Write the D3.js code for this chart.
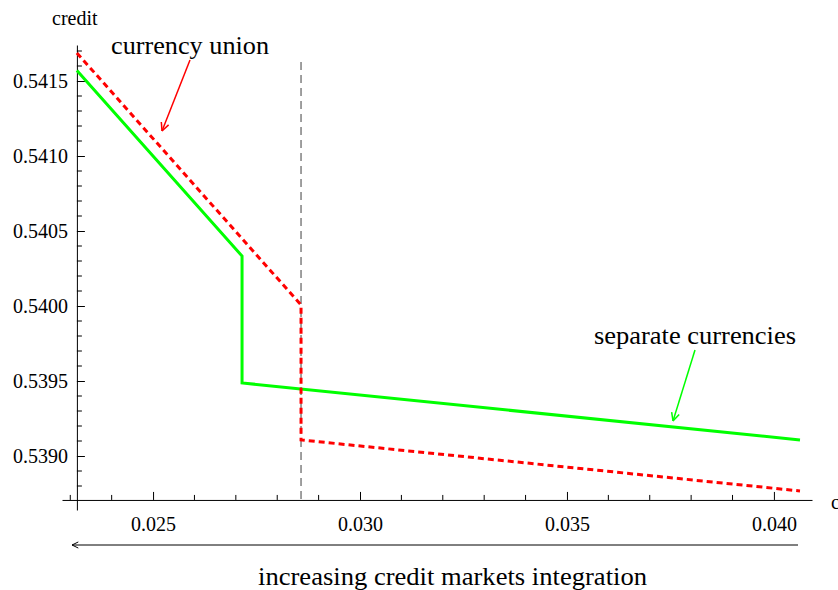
<!DOCTYPE html>
<html><head><meta charset="utf-8">
<script src="https://cdn.jsdelivr.net/npm/d3@7"></script>
<style>
body{margin:0;background:#fff;}
svg{display:block;}
</style></head>
<body><svg id="c" width="838" height="590"></svg>
<script>
// data
const greenX = [0.02316, 0.02715, 0.02715, 0.04063];
const greenY = [0.54157, 0.540333, 0.539487, 0.539107];
const redX = [0.02316, 0.028575, 0.028575, 0.04063];
const redY = [0.541687, 0.540007, 0.539107, 0.538767];
const thresholdX = 0.028575;
const xMajor = [0.025, 0.030, 0.035, 0.040];
const yMajor = [0.5390, 0.5395, 0.5400, 0.5405, 0.5410, 0.5415];
const xMinor = [0.023,0.024,0.026,0.027,0.028,0.029,0.031,0.032,0.033,0.034,0.036,0.037,0.038,0.039];
const yMinor = [0.5388,0.5389,0.5391,0.5392,0.5393,0.5394,0.5396,0.5397,0.5398,0.5399,0.5401,0.5402,0.5403,0.5404,0.5406,0.5407,0.5408,0.5409,0.5411,0.5412,0.5413,0.5414,0.5416,0.5417];
const yAxisAt = 0.02316, xAxisAt = 0.538707;

const FONT = '"Liberation Serif"';
const svg = d3.select("#c");
const x = d3.scaleLinear().domain([0.0228, 0.04092]).range([62, 812]);
const y = d3.scaleLinear().domain([0.53864, 0.54174]).range([510, 45]);
const X0 = x(yAxisAt), Y0 = y(xAxisAt);

// x axis
const gx = svg.append("g").attr("transform", `translate(0,${Y0})`)
  .call(d3.axisBottom(x).tickValues(xMajor).tickSize(-8).tickSizeOuter(0).tickPadding(17).tickFormat(d3.format(".3f")));
gx.selectAll("text").style("font-family", FONT).style("font-size","20px").attr("fill","#000");
gx.selectAll("path,line").attr("stroke","#000");
gx.selectAll(".minor").data(xMinor).enter().append("line")
  .attr("x1", d=>x(d)).attr("x2", d=>x(d)).attr("y1",0).attr("y2",-5).attr("stroke","#000");

// y axis
const gy = svg.append("g").attr("transform", `translate(${X0},0)`)
  .call(d3.axisLeft(y).tickValues(yMajor).tickSize(-8).tickSizeOuter(0).tickPadding(9).tickFormat(d3.format(".4f")));
gy.selectAll("text").style("font-family", FONT).style("font-size","20px").attr("fill","#000");
gy.selectAll("path,line").attr("stroke","#000");
gy.selectAll(".minor").data(yMinor).enter().append("line")
  .attr("y1", d=>y(d)).attr("y2", d=>y(d)).attr("x1",0).attr("x2",5).attr("stroke","#000");

// threshold
svg.append("line").attr("x1", x(thresholdX)).attr("x2", x(thresholdX))
  .attr("y1", y(0.541627)).attr("y2", Y0)
  .attr("stroke","#808080").attr("stroke-width",1.5).attr("stroke-dasharray","8,5");

const line = d3.line().x(d=>x(d[0])).y(d=>y(d[1]));
svg.append("path").datum(greenX.map((v,i)=>[v,greenY[i]])).attr("d", line)
  .attr("fill","none").attr("stroke","#00ff00").attr("stroke-width",3);
svg.append("path").datum(redX.map((v,i)=>[v,redY[i]])).attr("d", line)
  .attr("fill","none").attr("stroke","#ff0000").attr("stroke-width",3).attr("stroke-dasharray","6,4");

// arrows
function arrow(x1,y1,x2,y2,color,w,head){
  svg.append("line").attr("x1",x1).attr("y1",y1).attr("x2",x2).attr("y2",y2)
    .attr("stroke",color).attr("stroke-width",w);
  const a = Math.atan2(y2-y1,x2-x1);
  const s = 0.45;
  [a+Math.PI-s, a+Math.PI+s].forEach(b=>{
    svg.append("line").attr("x1",x2).attr("y1",y2)
      .attr("x2",x2+head*Math.cos(b)).attr("y2",y2+head*Math.sin(b))
      .attr("stroke",color).attr("stroke-width",w);
  });
}
arrow(190,60,162,131,"#ff0000",1.5,9);
arrow(695,350,673,421,"#00ff00",1.5,9);
arrow(798,545,72,545,"#000",1,7);

// texts
function txt(x0,y0,size,s,len){
  const t = svg.append("text").attr("x",x0).attr("y",y0)
    .style("font-family",FONT).style("font-size",size+"px").attr("fill","#000").text(s);
  if(len) t.attr("textLength",len).attr("lengthAdjust","spacingAndGlyphs");
  return t;
}
txt(52,25,20,"credit");
txt(831,509,20,"c");
txt(111,54,25,"currency union",158);
txt(594,344,25,"separate currencies",202);
txt(258,585,25,"increasing credit markets integration",389);
</script></body></html>
